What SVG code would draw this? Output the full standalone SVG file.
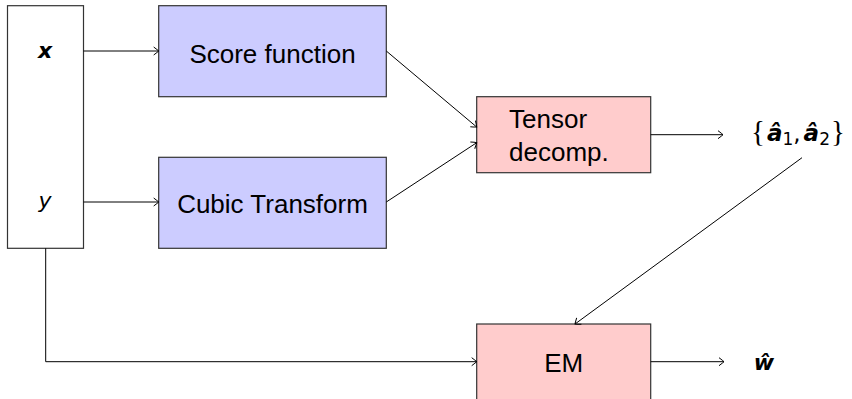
<svg xmlns="http://www.w3.org/2000/svg" width="852" height="399" viewBox="0 0 852 399">
  <style>
    .box { stroke: #333333; stroke-width: 1.2; }
    .plain { fill: #ffffff; }
    .blue { fill: #ccccff; }
    .pink { fill: #ffcccc; }
    .lbl { font-family: "Liberation Sans", Arial, sans-serif; font-size: 26px; fill: #000000; }
    .math { font-family: "DejaVu Sans", "Liberation Sans", sans-serif; font-size: 22px; fill: #000000; }
    .vec { font-weight: bold; font-style: italic; }
    .brace { font-family: "Liberation Serif", "DejaVu Serif", serif; }
    .edge { fill: none; stroke: #000000; stroke-width: 1; }
  </style>
  <defs>
    <marker id="to" viewBox="-6 -5 8 10" markerWidth="8" markerHeight="10" refX="0" refY="0" orient="auto" markerUnits="userSpaceOnUse">
      <path d="M-5,-4 Q-1,-1 0,0 Q-1,1 -5,4" fill="none" stroke="#000000" stroke-width="1"/>
    </marker>
  </defs>

  <!-- input data block -->
  <g id="data">
    <rect class="box plain" x="7.5" y="5.7" width="76" height="242.6"/>
    <text class="math vec" x="45" y="58" text-anchor="middle">x</text>
    <text class="math" x="45" y="208" text-anchor="middle" font-style="italic">y</text>
  </g>

  <g id="score">
    <rect class="box blue" x="158.7" y="5.7" width="227.6" height="91"/>
    <text class="lbl" x="272.5" y="62.5" text-anchor="middle">Score function</text>
  </g>

  <g id="cubic">
    <rect class="box blue" x="158.7" y="157.3" width="227.6" height="91"/>
    <text class="lbl" x="272.5" y="213" text-anchor="middle">Cubic Transform</text>
  </g>

  <g id="tensor">
    <rect class="box pink" x="476.7" y="96.7" width="174" height="76"/>
    <text class="lbl" x="509" y="128.3">Tensor</text>
    <text class="lbl" x="509" y="160.5">decomp.</text>
  </g>

  <g id="ahat">
    <text class="math" x="751" y="141" style="font-size:23px"><tspan class="brace" style="font-size:29px">{</tspan><tspan class="vec" dx="2">â</tspan><tspan style="font-size:17px" dy="4">1</tspan><tspan dy="-4">,</tspan><tspan class="vec" dx="3">â</tspan><tspan style="font-size:17px" dy="4">2</tspan><tspan class="brace" style="font-size:29px" dy="-4" dx="1">}</tspan></text>
  </g>

  <g id="em">
    <rect class="box pink" x="476.7" y="324" width="174" height="76"/>
    <text class="lbl" x="563.7" y="371.5" text-anchor="middle">EM</text>
  </g>

  <g id="what">
    <text class="math vec" x="764" y="370" text-anchor="middle">ŵ</text>
  </g>

  <g id="connectors">
    <line class="edge" x1="83.5" y1="51" x2="158.7" y2="51" marker-end="url(#to)"/>
    <line class="edge" x1="83.5" y1="202" x2="158.7" y2="202" marker-end="url(#to)"/>
    <line class="edge" x1="386.3" y1="51" x2="476.7" y2="127" marker-end="url(#to)"/>
    <line class="edge" x1="386.3" y1="202" x2="476.7" y2="142.7" marker-end="url(#to)"/>
    <line class="edge" x1="650.7" y1="134.7" x2="723" y2="134.7" marker-end="url(#to)"/>
    <line class="edge" x1="802" y1="157.7" x2="575" y2="324" marker-end="url(#to)"/>
    <polyline class="edge" points="45.7,248.3 45.7,361.7 476.7,361.7" marker-end="url(#to)"/>
    <line class="edge" x1="650.7" y1="361.7" x2="724" y2="361.7" marker-end="url(#to)"/>
  </g>
</svg>
